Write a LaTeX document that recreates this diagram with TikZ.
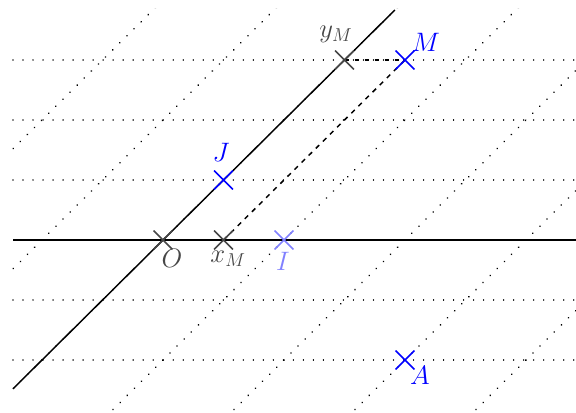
\RequirePackage{fix-cm}
\documentclass[tikz,border=0pt]{standalone}
\usetikzlibrary{shapes.misc}
\definecolor{ogray}{RGB}{70,70,70}
\definecolor{pblue}{RGB}{0,0,255}
\definecolor{lblue}{RGB}{128,128,255}
\tikzset{
  axisline/.style={line width=1.1pt, black},
  gridline/.style={line width=1.05pt, black, dash pattern=on 0.01pt off 7.5pt, line cap=round},
  obliquegrid/.style={gridline, line width=1.35pt},
  projline/.style={line width=1.1pt, black, dash pattern=on 3.6pt off 3.9pt},
  crossmark/.style={cross out, draw, minimum size=13pt, inner sep=0pt, line width=1.1pt},
  lab/.style={anchor=base, inner sep=0pt, font=\fontsize{20}{22}\selectfont}
}
\begin{document}
\begin{tikzpicture}[x=0.75pt,y=-0.75pt]
\useasboundingbox (0,0) rectangle (576,413);
% grid
\begin{scope}
  \clip (12,9) rectangle (577,411);
  \foreach \k in {-2,...,4}{
    \draw[obliquegrid] ({163+121*\k-60.5*4},480) -- ({163+121*\k+60.5*5},-60);
  }
  \foreach \j in {-2,-1,1,2,3}{
    \draw[gridline] (13,{240-60*\j}) -- (577,{240-60*\j});
  }
\end{scope}
% points
\coordinate (O) at (163,240);
\coordinate (xM) at (223.5,240);
\coordinate (I) at (284,240);
\coordinate (J) at (223.5,180);
\coordinate (yM) at (344.5,60);
\coordinate (M) at (405,60);
\coordinate (A) at (405,360);
\coordinate (xa1) at (13,240);
\coordinate (xa2) at (576,240);
\coordinate (ya1) at (13,388.8);
\coordinate (ya2) at (394.9,10);
% axes
\draw[axisline] (xa1) -- (xa2);
\draw[axisline] (ya1) -- (ya2);
% projections
\draw[projline] (xM) -- (M);
\draw[projline] (yM) -- (M);
% marks
\node[crossmark, ogray] (mO) at (O) {};
\node[crossmark, ogray] (mxM) at (xM) {};
\node[crossmark, ogray] (myM) at (yM) {};
\node[crossmark, lblue] (mI) at (I) {};
\node[crossmark, pblue] (mJ) at (J) {};
\node[crossmark, pblue] (mM) at (M) {};
\node[crossmark, pblue] (mA) at (A) {};
% labels
\node[lab, text=ogray] (lO) at (172,268) {$O$};
\node[lab, text=ogray] (lxM) at (228,263) {$x_M$};
\node[lab, text=ogray] (lyM) at (336,38) {$y_M$};
\node[lab, text=lblue] (lI) at (283,271) {$I$};
\node[lab, text=pblue] (lJ) at (221,162) {$J$};
\node[lab, text=pblue] (lM) at (426,52) {$M$};
\node[lab, text=pblue] (lA) at (420,385) {$A$};
\end{tikzpicture}
\end{document}
